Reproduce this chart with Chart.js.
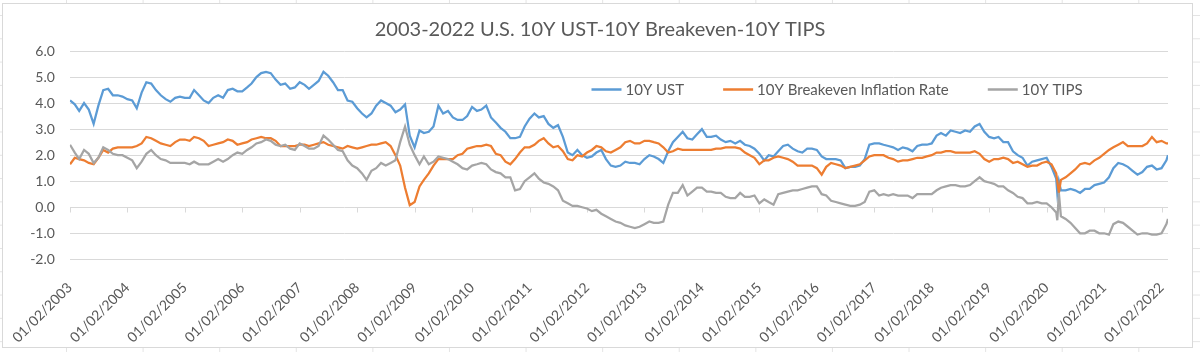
<!DOCTYPE html>
<html>
<head>
<meta charset="utf-8">
<title>10Y UST / Breakeven / TIPS</title>
<script src="https://cdn.jsdelivr.net/npm/chart.js@4.4.1/dist/chart.umd.min.js"></script>
<style>
  html, body { margin: 0; padding: 0; }
  body {
    width: 1200px; height: 352px; overflow: hidden;
    background-color: #fff;
    /* faint spreadsheet cells around the chart object */
    background-image:
      linear-gradient(to right, #e4e4e4 1px, transparent 1px),
      linear-gradient(to bottom, #e4e4e4 1px, transparent 1px);
    background-size: 76.6px 23.3px;
    background-position: 66px 15px;
  }
  #frame {
    position: absolute; left: 2px; top: 3px;
    width: 1191px; height: 345px;
    background: #fff;
    border: 1px solid #d9d9d9; box-sizing: border-box;
  }
  #wrap {
    position: absolute; left: 3px; top: 4px;
    width: 1194px; height: 342px;
  }
</style>
</head>
<body>
<div id="frame"></div>
<div id="wrap"><canvas id="yieldChart"></canvas></div>
<script>
// Observation dates (roughly monthly, extra points around March 2020)
const dates = [
  '2003-01-02','2003-02-01','2003-03-01','2003-04-01','2003-05-01','2003-06-01','2003-07-01','2003-08-01','2003-09-01','2003-10-01','2003-11-01','2003-12-01',
  '2004-01-01','2004-02-01','2004-03-01','2004-04-01','2004-05-01','2004-06-01','2004-07-01','2004-08-01','2004-09-01','2004-10-01','2004-11-01','2004-12-01',
  '2005-01-01','2005-02-01','2005-03-01','2005-04-01','2005-05-01','2005-06-01','2005-07-01','2005-08-01','2005-09-01','2005-10-01','2005-11-01','2005-12-01',
  '2006-01-01','2006-02-01','2006-03-01','2006-04-01','2006-05-01','2006-06-01','2006-07-01','2006-08-01','2006-09-01','2006-10-01','2006-11-01','2006-12-01',
  '2007-01-01','2007-02-01','2007-03-01','2007-04-01','2007-05-01','2007-06-01','2007-07-01','2007-08-01','2007-09-01','2007-10-01','2007-11-01','2007-12-01',
  '2008-01-01','2008-02-01','2008-03-01','2008-04-01','2008-05-01','2008-06-01','2008-07-01','2008-08-01','2008-09-01','2008-10-01','2008-11-01','2008-12-01',
  '2009-01-01','2009-02-01','2009-03-01','2009-04-01','2009-05-01','2009-06-01','2009-07-01','2009-08-01','2009-09-01','2009-10-01','2009-11-01','2009-12-01',
  '2010-01-01','2010-02-01','2010-03-01','2010-04-01','2010-05-01','2010-06-01','2010-07-01','2010-08-01','2010-09-01','2010-10-01','2010-11-01','2010-12-01',
  '2011-01-01','2011-02-01','2011-03-01','2011-04-01','2011-05-01','2011-06-01','2011-07-01','2011-08-01','2011-09-01','2011-10-01','2011-11-01','2011-12-01',
  '2012-01-01','2012-02-01','2012-03-01','2012-04-01','2012-05-01','2012-06-01','2012-07-01','2012-08-01','2012-09-01','2012-10-01','2012-11-01','2012-12-01',
  '2013-01-01','2013-02-01','2013-03-01','2013-04-01','2013-05-01','2013-06-01','2013-07-01','2013-08-01','2013-09-01','2013-10-01','2013-11-01','2013-12-01',
  '2014-01-01','2014-02-01','2014-03-01','2014-04-01','2014-05-01','2014-06-01','2014-07-01','2014-08-01','2014-09-01','2014-10-01','2014-11-01','2014-12-01',
  '2015-01-01','2015-02-01','2015-03-01','2015-04-01','2015-05-01','2015-06-01','2015-07-01','2015-08-01','2015-09-01','2015-10-01','2015-11-01','2015-12-01',
  '2016-01-01','2016-02-01','2016-03-01','2016-04-01','2016-05-01','2016-06-01','2016-07-01','2016-08-01','2016-09-01','2016-10-01','2016-11-01','2016-12-01',
  '2017-01-01','2017-02-01','2017-03-01','2017-04-01','2017-05-01','2017-06-01','2017-07-01','2017-08-01','2017-09-01','2017-10-01','2017-11-01','2017-12-01',
  '2018-01-01','2018-02-01','2018-03-01','2018-04-01','2018-05-01','2018-06-01','2018-07-01','2018-08-01','2018-09-01','2018-10-01','2018-11-01','2018-12-01',
  '2019-01-01','2019-02-01','2019-03-01','2019-04-01','2019-05-01','2019-06-01','2019-07-01','2019-08-01','2019-09-01','2019-10-01','2019-11-01','2019-12-01',
  '2020-01-01','2020-02-01','2020-03-02','2020-03-09','2020-03-19','2020-04-01','2020-05-01','2020-06-01','2020-07-01','2020-08-01','2020-09-01','2020-10-01','2020-11-01','2020-12-01',
  '2021-01-01','2021-02-01','2021-03-01','2021-04-01','2021-05-01','2021-06-01','2021-07-01','2021-08-01','2021-09-01','2021-10-01','2021-11-01','2021-12-01',
  '2022-01-01','2022-02-01','2022-02-11'
];

// 10Y Treasury yield (%)
const ust10y = [
  4.10, 3.95, 3.70, 4.00, 3.75, 3.20, 3.90, 4.50, 4.55, 4.30, 4.30, 4.25,
  4.15, 4.10, 3.80, 4.40, 4.80, 4.75, 4.50, 4.30, 4.15, 4.05, 4.20, 4.25,
  4.20, 4.20, 4.50, 4.30, 4.10, 4.00, 4.20, 4.30, 4.20, 4.50, 4.55, 4.45,
  4.45, 4.60, 4.75, 5.00, 5.15, 5.20, 5.15, 4.90, 4.70, 4.75, 4.55, 4.60,
  4.80, 4.70, 4.55, 4.70, 4.85, 5.20, 5.05, 4.80, 4.50, 4.50, 4.10, 4.05,
  3.80, 3.60, 3.45, 3.60, 3.90, 4.10, 4.00, 3.90, 3.65, 3.75, 3.95, 2.75,
  2.30, 2.95, 2.85, 2.90, 3.10, 3.90, 3.60, 3.70, 3.45, 3.35, 3.35, 3.50,
  3.85, 3.70, 3.75, 3.90, 3.45, 3.25, 3.05, 2.90, 2.65, 2.65, 2.70, 3.10,
  3.40, 3.60, 3.45, 3.50, 3.20, 3.05, 3.15, 2.70, 2.10, 2.00, 2.20, 2.00,
  1.90, 1.95, 2.10, 2.20, 1.85, 1.60, 1.55, 1.60, 1.75, 1.70, 1.70, 1.65,
  1.85, 2.00, 1.95, 1.85, 1.70, 2.15, 2.50, 2.70, 2.90, 2.65, 2.60, 2.80,
  3.00, 2.70, 2.70, 2.75, 2.60, 2.50, 2.55, 2.45, 2.55, 2.40, 2.35, 2.25,
  2.05, 1.80, 2.00, 1.95, 2.15, 2.35, 2.40, 2.25, 2.15, 2.10, 2.25, 2.25,
  2.20, 1.95, 1.85, 1.85, 1.85, 1.80, 1.50, 1.55, 1.55, 1.60, 1.85, 2.40,
  2.45, 2.45, 2.40, 2.35, 2.30, 2.20, 2.30, 2.25, 2.15, 2.35, 2.40, 2.40,
  2.45, 2.75, 2.85, 2.75, 2.95, 2.90, 2.85, 2.95, 2.90, 3.10, 3.20, 2.90,
  2.70, 2.65, 2.70, 2.50, 2.50, 2.15, 2.00, 1.90, 1.60, 1.75, 1.80, 1.85,
  1.90, 1.55, 1.10, 0.55, 1.00, 0.65, 0.65, 0.70, 0.65, 0.55, 0.70, 0.70, 0.85, 0.90,
  0.95, 1.15, 1.50, 1.70, 1.65, 1.55, 1.40, 1.25, 1.35, 1.55, 1.60, 1.45,
  1.50, 1.80, 2.00
];

// 10Y breakeven inflation rate (%)
const breakeven10y = [
  1.65, 1.90, 1.85, 1.80, 1.70, 1.65, 1.90, 2.20, 2.10, 2.25, 2.30, 2.30,
  2.30, 2.30, 2.35, 2.45, 2.70, 2.65, 2.55, 2.45, 2.40, 2.35, 2.50, 2.60,
  2.60, 2.55, 2.70, 2.65, 2.55, 2.35, 2.40, 2.45, 2.50, 2.60, 2.55, 2.40,
  2.45, 2.50, 2.60, 2.65, 2.70, 2.65, 2.65, 2.55, 2.35, 2.35, 2.35, 2.35,
  2.40, 2.40, 2.35, 2.40, 2.45, 2.50, 2.40, 2.35, 2.30, 2.25, 2.35, 2.30,
  2.25, 2.30, 2.35, 2.40, 2.40, 2.45, 2.50, 2.35, 2.00, 1.60, 0.75, 0.08,
  0.20, 0.80, 1.05, 1.30, 1.60, 1.85, 1.85, 1.85, 1.85, 2.00, 2.05, 2.25,
  2.30, 2.35, 2.35, 2.40, 2.35, 2.05, 2.00, 1.75, 1.65, 1.85, 2.10, 2.30,
  2.30, 2.40, 2.55, 2.65, 2.45, 2.30, 2.35, 2.15, 1.85, 1.80, 2.00, 1.95,
  2.10, 2.20, 2.35, 2.30, 2.15, 2.10, 2.20, 2.30, 2.50, 2.55, 2.45, 2.45,
  2.55, 2.55, 2.50, 2.45, 2.30, 2.10, 2.15, 2.25, 2.20, 2.20, 2.20, 2.20,
  2.20, 2.20, 2.20, 2.25, 2.25, 2.30, 2.30, 2.30, 2.25, 2.10, 2.00, 1.90,
  1.65, 1.80, 1.80, 1.90, 1.95, 1.90, 1.85, 1.75, 1.60, 1.60, 1.60, 1.60,
  1.50, 1.25, 1.55, 1.70, 1.65, 1.60, 1.50, 1.55, 1.60, 1.65, 1.80, 1.95,
  2.00, 2.00, 2.00, 1.90, 1.85, 1.75, 1.80, 1.80, 1.85, 1.90, 1.90, 1.95,
  2.00, 2.10, 2.10, 2.15, 2.15, 2.10, 2.10, 2.10, 2.10, 2.15, 2.05, 1.85,
  1.75, 1.85, 1.85, 1.90, 1.85, 1.70, 1.75, 1.65, 1.55, 1.60, 1.60, 1.70,
  1.75, 1.65, 1.30, 1.00, 0.55, 1.05, 1.15, 1.30, 1.45, 1.65, 1.70, 1.65, 1.80, 1.90,
  2.05, 2.20, 2.30, 2.40, 2.50, 2.35, 2.35, 2.35, 2.35, 2.45, 2.70, 2.50,
  2.55, 2.45, 2.45
];

// 10Y TIPS real yield (%)
const tips10y = [
  2.40, 2.10, 1.85, 2.20, 2.05, 1.70, 1.90, 2.30, 2.20, 2.05, 2.00, 2.00,
  1.90, 1.80, 1.50, 1.75, 2.05, 2.20, 2.00, 1.85, 1.80, 1.70, 1.70, 1.70,
  1.70, 1.65, 1.75, 1.65, 1.65, 1.65, 1.75, 1.85, 1.75, 1.85, 2.00, 2.10,
  2.05, 2.20, 2.30, 2.45, 2.50, 2.60, 2.55, 2.40, 2.35, 2.40, 2.25, 2.20,
  2.45, 2.35, 2.25, 2.25, 2.35, 2.75, 2.60, 2.40, 2.20, 2.15, 1.80, 1.60,
  1.50, 1.30, 1.05, 1.40, 1.50, 1.70, 1.60, 1.70, 1.80, 2.50, 3.10, 2.40,
  2.00, 1.65, 1.95, 1.65, 1.75, 1.95, 1.90, 1.85, 1.75, 1.65, 1.50, 1.45,
  1.60, 1.65, 1.70, 1.65, 1.45, 1.35, 1.30, 1.15, 1.15, 0.65, 0.70, 1.00,
  1.15, 1.30, 1.10, 0.95, 0.90, 0.80, 0.65, 0.25, 0.15, 0.05, 0.05, 0.00,
  -0.05, -0.15, -0.10, -0.25, -0.35, -0.45, -0.55, -0.60, -0.70, -0.75, -0.80, -0.75,
  -0.65, -0.55, -0.60, -0.60, -0.55, 0.10, 0.55, 0.55, 0.85, 0.45, 0.60, 0.75,
  0.75, 0.60, 0.60, 0.55, 0.55, 0.40, 0.35, 0.35, 0.55, 0.40, 0.40, 0.45,
  0.15, 0.30, 0.20, 0.10, 0.50, 0.55, 0.60, 0.65, 0.65, 0.70, 0.75, 0.80,
  0.80, 0.50, 0.45, 0.25, 0.20, 0.15, 0.10, 0.05, 0.05, 0.10, 0.20, 0.60,
  0.65, 0.45, 0.50, 0.45, 0.50, 0.45, 0.45, 0.45, 0.35, 0.50, 0.50, 0.50,
  0.50, 0.65, 0.75, 0.80, 0.85, 0.85, 0.80, 0.80, 0.85, 1.00, 1.15, 1.00,
  0.95, 0.90, 0.80, 0.80, 0.65, 0.55, 0.40, 0.35, 0.15, 0.15, 0.20, 0.15,
  0.15, 0.00, -0.20, -0.50, 0.55, -0.35, -0.45, -0.60, -0.80, -1.00, -1.00, -0.90, -0.90, -1.00,
  -1.00, -1.05, -0.65, -0.55, -0.60, -0.75, -0.90, -1.05, -1.00, -1.00, -1.05, -1.05,
  -1.00, -0.65, -0.45
];

const seriesNames = ['10Y UST', '10Y Breakeven Inflation Rate', '10Y TIPS'];
const seriesColors = ['#5B9BD5', '#ED7D31', '#A5A5A5'];

const tickLabels = [
  '01/02/2003', '01/02/2004', '01/02/2005', '01/02/2006', '01/02/2007',
  '01/02/2008', '01/02/2009', '01/02/2010', '01/02/2011', '01/02/2012',
  '01/02/2013', '01/02/2014', '01/02/2015', '01/02/2016', '01/02/2017',
  '01/02/2018', '01/02/2019', '01/02/2020', '01/02/2021', '01/02/2022'
];
const tickYears = tickLabels.map(l => Number(l.slice(6)));

const textColor = '#595959';
const gridColor = '#d9d9d9';

// date string -> fractional year, so the x axis is a plain linear scale
function toYear(d) {
    const [y, m, day] = d.split('-').map(Number);
    const start = Date.UTC(y, 0, 1);
    const end = Date.UTC(y + 1, 0, 1);
    return y + (Date.UTC(y, m - 1, day) - start) / (end - start);
}

function toPoints(values) {
    return values.map((v, i) => ({ x: toYear(dates[i]), y: v }));
}

// small tick marks hanging below the 0 line, like the Excel category axis
const zeroAxisTicks = {
    id: 'zeroAxisTicks',
    beforeDatasetsDraw(chart) {
        const { ctx, scales } = chart;
        const y0 = Math.round(scales.y.getPixelForValue(0)) + 0.5;
        ctx.save();
        ctx.strokeStyle = gridColor;
        ctx.lineWidth = 1;
        ctx.beginPath();
        scales.x.ticks.forEach(t => {
            const px = Math.round(scales.x.getPixelForValue(t.value)) + 0.5;
            ctx.moveTo(px, y0);
            ctx.lineTo(px, y0 + 5);
        });
        ctx.stroke();
        ctx.restore();
    }
};

// legend drawn inside the plot area, in one row
const insideLegend = {
    id: 'insideLegend',
    afterDraw(chart) {
        const { ctx, chartArea } = chart;
        let x = chartArea.left + chartArea.width * 0.475;
        const y = Math.round(chartArea.top + 38) + 0.5;
        ctx.save();
        ctx.font = '15px Lato';
        ctx.textBaseline = 'middle';
        chart.data.datasets.forEach(ds => {
            ctx.strokeStyle = ds.borderColor;
            ctx.lineWidth = 2.5;
            ctx.beginPath();
            ctx.moveTo(x, y);
            ctx.lineTo(x + 30, y);
            ctx.stroke();
            x += 34;
            ctx.fillStyle = textColor;
            ctx.fillText(ds.label, x, y + 1);
            x += ctx.measureText(ds.label).width + 39;
        });
        ctx.restore();
    }
};

document.addEventListener('DOMContentLoaded', function() {
    Chart.defaults.font.family = 'Lato';
    Chart.defaults.color = textColor;

    const allSeries = [ust10y, breakeven10y, tips10y];

    new Chart(document.getElementById('yieldChart'), {
        type: 'line',
        data: {
            datasets: allSeries.map((values, i) => ({
                label: seriesNames[i],
                data: toPoints(values),
                borderColor: seriesColors[i],
                backgroundColor: seriesColors[i],
                borderWidth: 2.25,
                pointRadius: 0,
                tension: 0,
                order: allSeries.length - i
            }))
        },
        options: {
            responsive: true,
            maintainAspectRatio: false,
            animation: false,
            layout: { padding: 0 },
            plugins: {
                legend: { display: false },
                tooltip: { enabled: false },
                title: {
                    display: true,
                    text: '2003-2022 U.S. 10Y UST-10Y Breakeven-10Y TIPS',
                    color: textColor,
                    font: { size: 20, weight: 'normal' },
                    padding: { top: 14, bottom: 9 }
                }
            },
            scales: {
                x: {
                    type: 'linear',
                    min: tickYears[0],
                    max: toYear(dates[dates.length - 1]),
                    afterBuildTicks: axis => {
                        axis.ticks = tickYears.map(v => ({ value: v }));
                    },
                    afterFit: axis => { axis.height = 86.7; },
                    grid: { display: false },
                    border: { display: false },
                    ticks: {
                        autoSkip: false,
                        minRotation: 45,
                        maxRotation: 45,
                        padding: 12,
                        color: textColor,
                        font: { size: 14 },
                        callback: v => tickLabels[tickYears.indexOf(v)] || ''
                    }
                },
                y: {
                    min: -2,
                    max: 6,
                    afterFit: axis => { axis.width = 64; },
                    grid: { color: gridColor, lineWidth: 1, drawTicks: false },
                    border: { display: false },
                    ticks: {
                        stepSize: 1,
                        padding: 15,
                        color: textColor,
                        font: { size: 14 },
                        callback: v => v.toFixed(1)
                    }
                },
                // empty right-hand strip so the plot stops short of the frame
                // while the title stays centred on the whole chart
                yPad: {
                    position: 'right',
                    afterFit: axis => { axis.width = 29; },
                    grid: { display: false },
                    border: { display: false },
                    ticks: { display: false }
                }
            }
        },
        plugins: [zeroAxisTicks, insideLegend]
    });
});
</script>
</body>
</html>
